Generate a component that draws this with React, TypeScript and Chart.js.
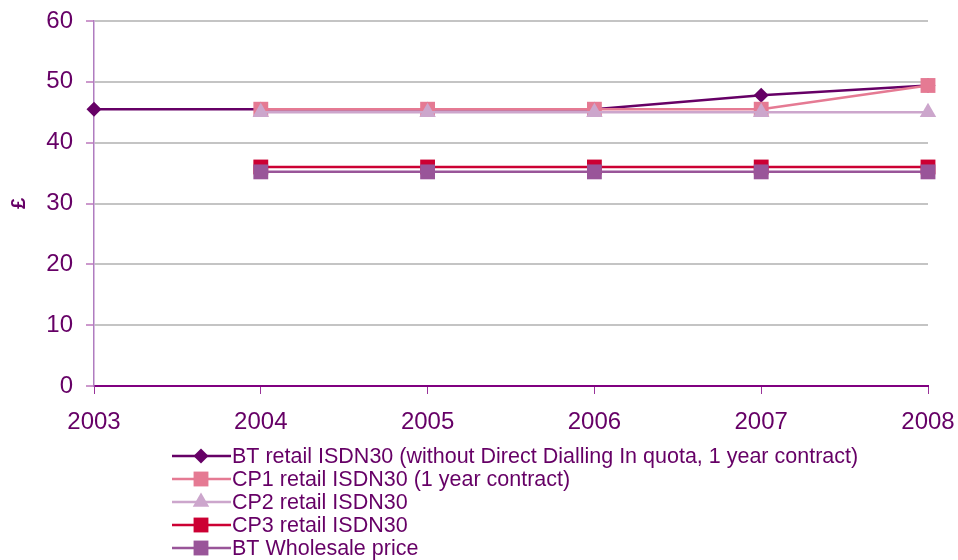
import React, { useEffect, useRef } from "react";
import { Chart, registerables } from "chart.js";

Chart.register(...registerables);

const years = ["2003", "2004", "2005", "2006", "2007", "2008"];
const btRetail = [45.5, 45.5, 45.5, 45.5, 47.8, 49.4];
const cp1Retail = [null, 45.5, 45.5, 45.5, 45.5, 49.4];
const cp2Retail = [null, 45.0, 45.0, 45.0, 45.0, 45.0];
const cp3Retail = [null, 36.0, 36.0, 36.0, 36.0, 36.0];
const btWholesale = [null, 35.2, 35.2, 35.2, 35.2, 35.2];
const seriesNames = [
  "BT retail ISDN30 (without Direct Dialling In quota, 1 year contract)",
  "CP1 retail ISDN30 (1 year contract)",
  "CP2 retail ISDN30",
  "CP3 retail ISDN30",
  "BT Wholesale price",
];

const FONT = "'Liberation Sans', Arial, sans-serif";
const TEXT = "#660066";

function drawMarker(ctx: CanvasRenderingContext2D, style: string, x: number, y: number, r: number, color: string) {
  ctx.save();
  ctx.fillStyle = color;
  ctx.beginPath();
  if (style === "rectRot") {
    ctx.moveTo(x - r, y);
    ctx.lineTo(x, y - r);
    ctx.lineTo(x + r, y);
    ctx.lineTo(x, y + r);
  } else if (style === "rect") {
    const s = Math.SQRT1_2 * r;
    ctx.rect(x - s, y - s, 2 * s, 2 * s);
  } else if (style === "triangle") {
    for (let k = 0; k < 3; k++) {
      const a = -Math.PI / 2 + (k * 2 * Math.PI) / 3;
      const px = x + Math.cos(a) * r;
      const py = y + Math.sin(a) * r;
      if (k === 0) ctx.moveTo(px, py);
      else ctx.lineTo(px, py);
    }
  }
  ctx.closePath();
  ctx.fill();
  ctx.restore();
}

const legendPlugin = {
  id: "customLegend",
  afterDraw(chart: any) {
    const ctx = chart.ctx as CanvasRenderingContext2D;
    chart.data.datasets.forEach((ds: any, i: number) => {
      const y = 456 + i * 23;
      ctx.save();
      ctx.strokeStyle = ds.borderColor;
      ctx.lineWidth = 2.5;
      ctx.beginPath();
      ctx.moveTo(172, y);
      ctx.lineTo(231, y);
      ctx.stroke();
      ctx.restore();
      drawMarker(ctx, ds.pointStyle, 201, y, ds.pointRadius, ds.pointBackgroundColor);
      ctx.save();
      ctx.fillStyle = TEXT;
      ctx.font = `21.5px ${FONT}`;
      ctx.textBaseline = "middle";
      ctx.textAlign = "left";
      ctx.fillText(seriesNames[i], 232, y + 1);
      ctx.restore();
    });
  },
};

export default function App() {
  const ref = useRef<HTMLCanvasElement | null>(null);
  useEffect(() => {
    if (!ref.current) return;
    const mk = (label: string, data: (number | null)[], color: string, style: string, r: number, order: number) => ({
      label,
      data,
      borderColor: color,
      backgroundColor: color,
      pointBackgroundColor: color,
      pointBorderColor: color,
      pointBorderWidth: 0,
      pointStyle: style,
      pointRadius: r,
      borderWidth: 2.5,
      tension: 0,
      clip: false,
      order,
    });
    const chart = new Chart(ref.current, {
      type: "line",
      data: {
        labels: years,
        datasets: [
          mk(seriesNames[0], btRetail, "#660066", "rectRot", 7.5, 5),
          mk(seriesNames[1], cp1Retail, "#e57a93", "rect", 10.5, 4),
          mk(seriesNames[2], cp2Retail, "#cca6cc", "triangle", 9.5, 3),
          mk(seriesNames[3], cp3Retail, "#cc0033", "rect", 10.5, 2),
          mk(seriesNames[4], btWholesale, "#995599", "rect", 10.5, 1),
        ] as any,
      },
      options: {
        animation: false,
        responsive: false,
        maintainAspectRatio: false,
        layout: { padding: { top: 21, right: 30, bottom: 120, left: 0 } },
        plugins: { legend: { display: false }, tooltip: { enabled: false } },
        scales: {
          x: {
            type: "category",
            offset: false,
            afterFit: (s: any) => {
              s.height = 54;
              s.paddingLeft = 0;
              s.paddingRight = 0;
            },
            grid: { drawOnChartArea: false, drawTicks: true, tickLength: 8, tickColor: "#993399", tickWidth: 1 },
            border: { color: "#800080", width: 2 },
            ticks: { color: TEXT, font: { family: FONT, size: 24 }, padding: 14, maxRotation: 0 },
          },
          y: {
            min: 0,
            max: 60,
            afterFit: (s: any) => {
              s.width = 94;
              s.paddingTop = 0;
              s.paddingBottom = 0;
            },
            ticks: { stepSize: 10, color: TEXT, font: { family: FONT, size: 24 }, padding: 13 },
            grid: { color: "#c4c4c4", lineWidth: 2, tickLength: 8, tickColor: "#993399", tickWidth: 1 },
            border: { color: "#b07cc0", width: 1.5 },
            title: {
              display: true,
              text: "£",
              color: TEXT,
              font: { family: FONT, size: 20, weight: "bold" },
              padding: { top: 7, bottom: 0 },
            },
          },
        },
      },
      plugins: [legendPlugin],
    });
    return () => chart.destroy();
  }, []);
  return (
    <div style={{ position: "fixed", left: 0, top: 0, width: 958, height: 560, background: "#fff" }}>
      <canvas ref={ref} width={958} height={560} style={{ width: 958, height: 560, display: "block" }} />
    </div>
  );
}
